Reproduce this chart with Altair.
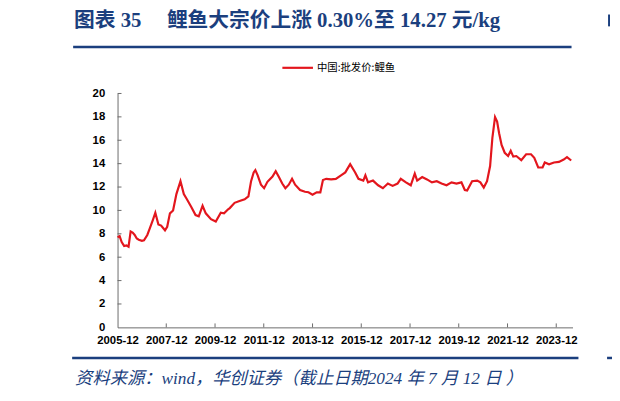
import altair as alt
import pandas as pd

# ---- data ----
dates = [
    "2005-12-01", "2006-01-01", "2006-02-01", "2006-03-10", "2006-04-15", "2006-05-15",
    "2006-06-15", "2006-07-15", "2006-08-15", "2006-09-15", "2006-10-15", "2006-12-01",
    "2007-01-01", "2007-02-20", "2007-04-01", "2007-05-15", "2007-06-20", "2007-08-05",
    "2007-09-15", "2007-11-12", "2007-12-15", "2008-01-25", "2008-03-12", "2008-05-01",
    "2008-07-01", "2008-08-20", "2008-10-01", "2008-12-10", "2009-02-12", "2009-04-01",
    "2009-05-28", "2009-07-15", "2009-10-01", "2009-12-12", "2010-02-25", "2010-04-15",
    "2010-06-15", "2010-07-10", "2010-09-20", "2010-12-03", "2011-02-18", "2011-04-15",
    "2011-05-25", "2011-07-03", "2011-07-28", "2011-09-01", "2011-10-20", "2011-12-06",
    "2012-01-25", "2012-04-10", "2012-05-28", "2012-07-15", "2012-09-03", "2012-10-20",
    "2012-12-10", "2013-01-28", "2013-03-15", "2013-05-28", "2013-08-10", "2013-10-01",
    "2013-12-01", "2014-02-01", "2014-03-28", "2014-05-06", "2014-06-25", "2014-09-06",
    "2014-11-15", "2015-02-01", "2015-04-06", "2015-06-18", "2015-09-01", "2015-10-20",
    "2016-01-01", "2016-02-01", "2016-03-12", "2016-05-25", "2016-08-10", "2016-10-20",
    "2017-01-03", "2017-03-15", "2017-05-28", "2017-07-15", "2017-10-01", "2017-12-12",
    "2018-02-10", "2018-03-18", "2018-06-01", "2018-08-12", "2018-10-25", "2019-01-06",
    "2019-03-18", "2019-06-01", "2019-08-15", "2019-10-28", "2020-01-10", "2020-03-01",
    "2020-04-05", "2020-06-18", "2020-09-03", "2020-10-20", "2020-12-10", "2021-01-28",
    "2021-03-15", "2021-04-18", "2021-05-28", "2021-06-28", "2021-07-28", "2021-09-03",
    "2021-10-20", "2021-12-10", "2022-01-18", "2022-02-25", "2022-04-12", "2022-06-25",
    "2022-09-06", "2022-11-18", "2023-01-06", "2023-03-06", "2023-05-10", "2023-06-12",
    "2023-08-15", "2023-10-28", "2024-01-10", "2024-03-22", "2024-05-10", "2024-07-12",
]
prices = [
    7.7, 7.8, 7.3, 6.95, 7.0, 6.9,
    8.2, 8.1, 7.9, 7.6, 7.5, 7.4,
    7.45, 7.9, 8.5, 9.2, 9.8, 8.8,
    8.7, 8.3, 8.6, 9.75, 10.0, 11.4,
    12.5, 11.4, 11.0, 10.3, 9.6, 9.5,
    10.4, 9.75, 9.25, 9.05, 9.8, 9.75,
    10.1, 10.2, 10.65, 10.8, 10.95, 11.2,
    12.5, 13.25, 13.45, 13.0, 12.2, 11.9,
    12.45, 12.9, 13.35, 12.85, 12.3, 11.9,
    12.2, 12.7, 12.2, 11.75, 11.6, 11.55,
    11.35, 11.55, 11.55, 12.6, 12.7, 12.65,
    12.7, 13.0, 13.25, 13.95, 13.25, 12.7,
    12.55, 13.0, 12.4, 12.55, 12.15, 11.9,
    12.3, 12.1, 12.3, 12.7, 12.4, 12.15,
    13.15, 12.55, 12.85, 12.65, 12.4, 12.5,
    12.3, 12.15, 12.4, 12.3, 12.4, 11.75,
    11.7, 12.5, 12.55, 12.4, 11.95, 12.5,
    13.8, 16.2, 17.98, 17.6, 16.6, 15.6,
    14.93, 14.65, 15.1, 14.6, 14.65, 14.3,
    14.8, 14.8, 14.5, 13.67, 13.67, 14.1,
    13.95, 14.1, 14.15, 14.35, 14.55, 14.27,
]
series_name = "中国:批发价:鲤鱼"
x_tick_years = [2005, 2007, 2009, 2011, 2013, 2015, 2017, 2019, 2021, 2023]
y_ticks = [0, 2, 4, 6, 8, 10, 12, 14, 16, 18, 20]
title_left = "图表 35"
title_right = "鲤鱼大宗价上涨 0.30%至 14.27 元/kg"
source_text = "资料来源：wind，华创证券（截止日期2024 年 7 月 12 日 ）"

df = pd.DataFrame({"date": dates, "price": prices})
tick_df = pd.DataFrame({"date": [f"{y}-12-01" for y in x_tick_years[1:]]})
ytick_df = pd.DataFrame({"price": y_ticks[1:]})
one = alt.Data(values=[{"a": 1}])

W, H = 461, 237
RED = "#E3161D"
BLUE = "#1B3F7E"
AXIS_COLOR = "#6b6b6b"

xscale = alt.Scale(domain=["2005-12-01", "2024-08-01"], nice=False)
yscale = alt.Scale(domain=[0, 20], nice=False)

xaxis = alt.Axis(
    title=None,
    values=[alt.DateTime(year=y, month=12, date=1) for y in x_tick_years],
    format="%Y-%m", labelFont="Liberation Sans", labelFontWeight="bold",
    labelFontSize=11.5, labelColor="#000000", labelPadding=7, tickSize=0,
    domainColor=AXIS_COLOR, domainWidth=1, grid=False, labelFlush=False,
    labelOverlap=False)
yaxis = alt.Axis(
    title=None, values=y_ticks, labelFont="Liberation Sans",
    labelFontWeight="bold", labelFontSize=11.5, labelColor="#000000",
    labelPadding=13, tickSize=0, domainColor=AXIS_COLOR, domainWidth=1,
    grid=False, labelOverlap=False, labelFlush=False)

line = alt.Chart(df).mark_line(color=RED, strokeWidth=2.2).encode(
    x=alt.X("date:T", scale=xscale, axis=xaxis),
    y=alt.Y("price:Q", scale=yscale, axis=yaxis),
)

xticks = alt.Chart(tick_df).mark_rule(color=AXIS_COLOR, strokeWidth=1).encode(
    x=alt.X("date:T", scale=xscale, axis=xaxis), y=alt.value(H), y2=alt.value(H - 4))
yticks = alt.Chart(ytick_df).mark_rule(color=AXIS_COLOR, strokeWidth=1).encode(
    y=alt.Y("price:Q", scale=yscale, axis=yaxis), x=alt.value(0), x2=alt.value(4))

def txt(text, x, y, **kw):
    return alt.Chart(one).mark_text(text=text, align="left", baseline="middle", **kw).encode(
        x=alt.value(x), y=alt.value(y))

def rule(x1, x2, y1, y2, color, width):
    return alt.Chart(one).mark_rule(color=color, strokeWidth=width).encode(
        x=alt.value(x1), x2=alt.value(x2), y=alt.value(y1), y2=alt.value(y2))

title_font = "Liberation Serif, Noto Sans CJK SC"
t1 = txt(title_left, -44, -73, font=title_font, fontSize=21, fontWeight="bold", color=BLUE)
t2 = txt(title_right, 50, -73, font=title_font, fontSize=21, fontWeight="bold", color=BLUE)
top_rule = rule(-45, 460, -47, -47, BLUE, 2.5)
bot_rule = rule(-46, 467, 268, 268, BLUE, 2.5)
leg_line = rule(167, 198, -26, -26, RED, 2.2)
leg_text = txt(series_name, 202, -26, font="Noto Sans CJK SC", fontSize=10.5, color="#000000")
src = txt(source_text, -43, 289, font=title_font, fontSize=17.5, fontStyle="italic", color=BLUE)
edge1 = rule(496, 502, 268, 268, BLUE, 2.5)
edge2 = rule(498, 498, -80, -68, BLUE, 2)

chart = alt.layer(
    line, xticks, yticks, t1, t2, top_rule, bot_rule, leg_line, leg_text, src, edge1, edge2
).properties(
    width=W, height=H,
    autosize=alt.AutoSizeParams(type="none"),
    padding={"left": 111, "top": 84, "right": 40, "bottom": 72},
    background="white",
).configure_view(stroke="transparent")

chart.save("out.html", embed_options={"renderer": "svg", "actions": False})
